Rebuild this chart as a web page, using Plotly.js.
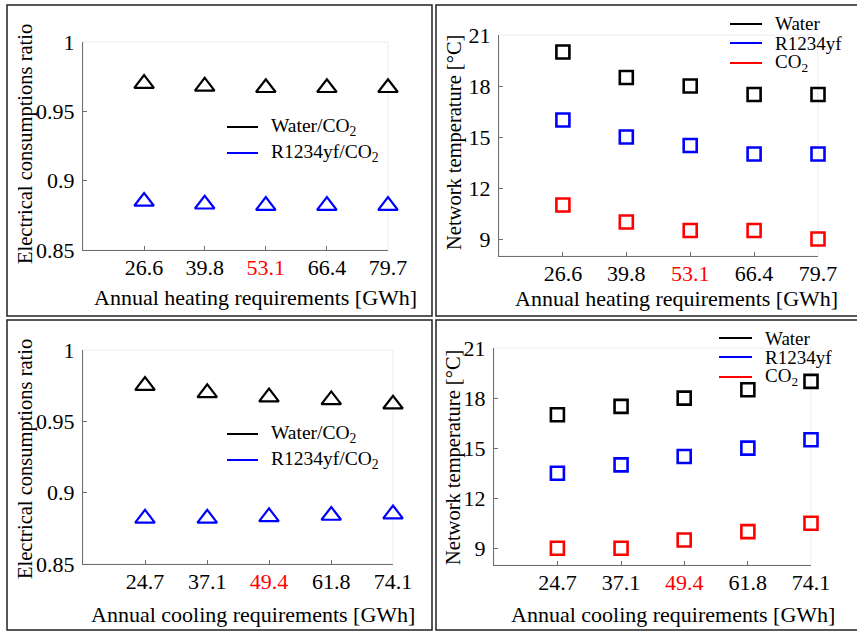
<!DOCTYPE html>
<html>
<head>
<meta charset="utf-8">
<script src="https://cdn.plot.ly/plotly-3.0.1.min.js"></script>
<style>html,body{margin:0;padding:0;background:#fff;}#chart{width:857px;height:632px;}</style>
</head>
<body>
<div id="chart"></div>
<script>
// ---- data ----
const heatReq = [26.6, 39.8, 53.1, 66.4, 79.7];
const coolReq = [24.7, 37.1, 49.4, 61.8, 74.1];
const heatTickText = ['26.6', '39.8', '<span style="color:#ff0000">53.1</span>', '66.4', '79.7'];
const coolTickText = ['24.7', '37.1', '<span style="color:#ff0000">49.4</span>', '61.8', '74.1'];

const heatRatioWater = [0.970, 0.968, 0.967, 0.967, 0.967];
const heatRatioR1234yf = [0.885, 0.883, 0.882, 0.882, 0.882];
const heatTempWater = [20, 18.5, 18, 17.5, 17.5];
const heatTempR1234yf = [16, 15, 14.5, 14, 14];
const heatTempCO2 = [11, 10, 9.5, 9.5, 9];

const coolRatioWater = [0.975, 0.970, 0.967, 0.965, 0.962];
const coolRatioR1234yf = [0.882, 0.882, 0.883, 0.884, 0.885];
const coolTempWater = [17, 17.5, 18, 18.5, 19];
const coolTempR1234yf = [13.5, 14, 14.5, 15, 15.5];
const coolTempCO2 = [9, 9, 9.5, 10, 10.5];

const ratioTicks = [0.85, 0.9, 0.95, 1];
const ratioTickText = ['0.85', '0.9', '0.95', '1'];
const tempTicks = [9, 12, 15, 18, 21];

// ---- helpers ----
const W = 857, H = 632;
const FONT = '"Liberation Serif", "Times New Roman", serif';
const px = v => v / W;
const py = v => 1 - v / H;
const BLACK = '#000000', BLUE = '#0000ff', RED = '#ff0000';

function tri(x, y, color, xa, ya) {
  return {x: x, y: y, xaxis: xa, yaxis: ya, type: 'scatter', mode: 'markers', showlegend: false, cliponaxis: false,
    marker: {symbol: 'triangle-up-open', size: 17, color: color, line: {color: color, width: 2.2}}};
}
function sq(x, y, color, xa, ya) {
  return {x: x, y: y, xaxis: xa, yaxis: ya, type: 'scatter', mode: 'markers', showlegend: false, cliponaxis: false,
    marker: {symbol: 'square-open', size: 13, color: color, line: {color: color, width: 2.6}}};
}

const data = [
  tri(heatReq, heatRatioWater, BLACK, 'x', 'y'),
  tri(heatReq, heatRatioR1234yf, BLUE, 'x', 'y'),
  sq(heatReq, heatTempWater, BLACK, 'x2', 'y2'),
  sq(heatReq, heatTempR1234yf, BLUE, 'x2', 'y2'),
  sq(heatReq, heatTempCO2, RED, 'x2', 'y2'),
  tri(coolReq, coolRatioWater, BLACK, 'x3', 'y3'),
  tri(coolReq, coolRatioR1234yf, BLUE, 'x3', 'y3'),
  sq(coolReq, coolTempWater, BLACK, 'x4', 'y4'),
  sq(coolReq, coolTempR1234yf, BLUE, 'x4', 'y4'),
  sq(coolReq, coolTempCO2, RED, 'x4', 'y4')
];

function xax(domainPx, yAnchor, vals, text, range) {
  return {domain: [px(domainPx[0]), px(domainPx[1])], anchor: yAnchor, range: range,
    tickmode: 'array', tickvals: vals, ticktext: text, showgrid: false, zeroline: false,
    showline: true, linecolor: '#6e6e6e', linewidth: 1, ticks: 'inside', ticklen: 4, tickcolor: '#6e6e6e',
    ticklabelstandoff: -2, tickfont: {family: FONT, size: 22, color: '#000'}, fixedrange: true};
}
function yax(domainPx, xAnchor, vals, text, range) {
  return {domain: [py(domainPx[1]), py(domainPx[0])], anchor: xAnchor, range: range,
    tickmode: 'array', tickvals: vals, ticktext: text, showgrid: false, zeroline: false,
    showline: true, linecolor: '#6e6e6e', linewidth: 1, ticks: 'inside', ticklen: 4, tickcolor: '#6e6e6e',
    ticklabelstandoff: 3, tickfont: {family: FONT, size: 22, color: '#000'}, fixedrange: true};
}

const layout = {
  width: W, height: H, margin: {l: 0, r: 0, t: 0, b: 0},
  paper_bgcolor: '#fff', plot_bgcolor: 'rgba(0,0,0,0)', showlegend: false,
  font: {family: FONT, size: 20, color: '#000'},
  xaxis: xax([83, 388], 'y', heatReq, heatTickText, [13.3, 79.7]),
  yaxis: yax([42, 250], 'x', ratioTicks, ratioTickText, [0.85, 1.0]),
  xaxis2: xax([499, 818], 'y2', heatReq, heatTickText, [13.3, 79.7]),
  yaxis2: yax([35, 256], 'x2', tempTicks, tempTicks.map(String), [8, 21]),
  xaxis3: xax([83, 393], 'y3', coolReq, coolTickText, [12.35, 74.1]),
  yaxis3: yax([350, 564], 'x3', ratioTicks, ratioTickText, [0.85, 1.0]),
  xaxis4: xax([494, 811], 'y4', coolReq, coolTickText, [12.35, 74.1]),
  yaxis4: yax([348, 565], 'x4', tempTicks, tempTicks.map(String), [8, 21]),
  shapes: [],
  annotations: []
};

// faint plot-area boxes
['', '2', '3', '4'].forEach(s => {
  layout.shapes.push({type: 'rect', xref: 'x' + s + ' domain', yref: 'y' + s + ' domain', x0: 0, x1: 1, y0: 0, y1: 1,
    line: {color: '#ececec', width: 1}, layer: 'below'});
});
// panel borders
[[7, 432, 5, 316], [436, 870, 5, 316], [7, 432, 320, 630], [436, 870, 320, 630]].forEach(b => {
  layout.shapes.push({type: 'rect', xref: 'paper', yref: 'paper', x0: px(b[0]), x1: px(b[1]), y0: py(b[3]), y1: py(b[2]),
    line: {color: '#222', width: 1.5}});
});

// axis titles
function ann(text, x, y, size, extra) {
  layout.annotations.push(Object.assign({text: text, xref: 'paper', yref: 'paper', x: px(x), y: py(y),
    showarrow: false, xanchor: 'center', yanchor: 'middle', font: {family: FONT, size: size, color: '#000'}}, extra || {}));
}
ann('Electrical consumptions ratio', 25, 144, 20.5, {textangle: -90});
ann('Network temperature [°C]', 455, 142, 20.5, {textangle: -90});
ann('Electrical consumptions ratio', 25, 459, 20.5, {textangle: -90});
ann('Network temperature [°C]', 453, 458, 20.5, {textangle: -90});
ann('Annual heating requirements [GWh]', 255, 297, 22);
ann('Annual heating requirements [GWh]', 676, 298, 22);
ann('Annual cooling requirements [GWh]', 253, 614, 22);
ann('Annual cooling requirements [GWh]', 673, 614, 22);

// legends
function legend(x0, x1, tx, size, items) {
  items.forEach(it => {
    layout.shapes.push({type: 'line', xref: 'paper', yref: 'paper', x0: px(x0), x1: px(x1), y0: py(it[2]), y1: py(it[2]),
      line: {color: it[1], width: 2}});
    ann(it[0], tx, it[2], size, {xanchor: 'left'});
  });
}
legend(227, 258, 269, 19.5, [['Water/CO<sub>2</sub>', BLACK, 127], ['R1234yf/CO<sub>2</sub>', BLUE, 153]]);
legend(730, 762, 773, 19, [['Water', BLACK, 24], ['R1234yf', BLUE, 43], ['CO<sub>2</sub>', RED, 63]]);
legend(227, 258, 269, 19.5, [['Water/CO<sub>2</sub>', BLACK, 434], ['R1234yf/CO<sub>2</sub>', BLUE, 460]]);
legend(719, 752, 763, 19, [['Water', BLACK, 338], ['R1234yf', BLUE, 357], ['CO<sub>2</sub>', RED, 377]]);

Plotly.newPlot('chart', data, layout, {staticPlot: true, displayModeBar: false});
</script>
</body>
</html>
